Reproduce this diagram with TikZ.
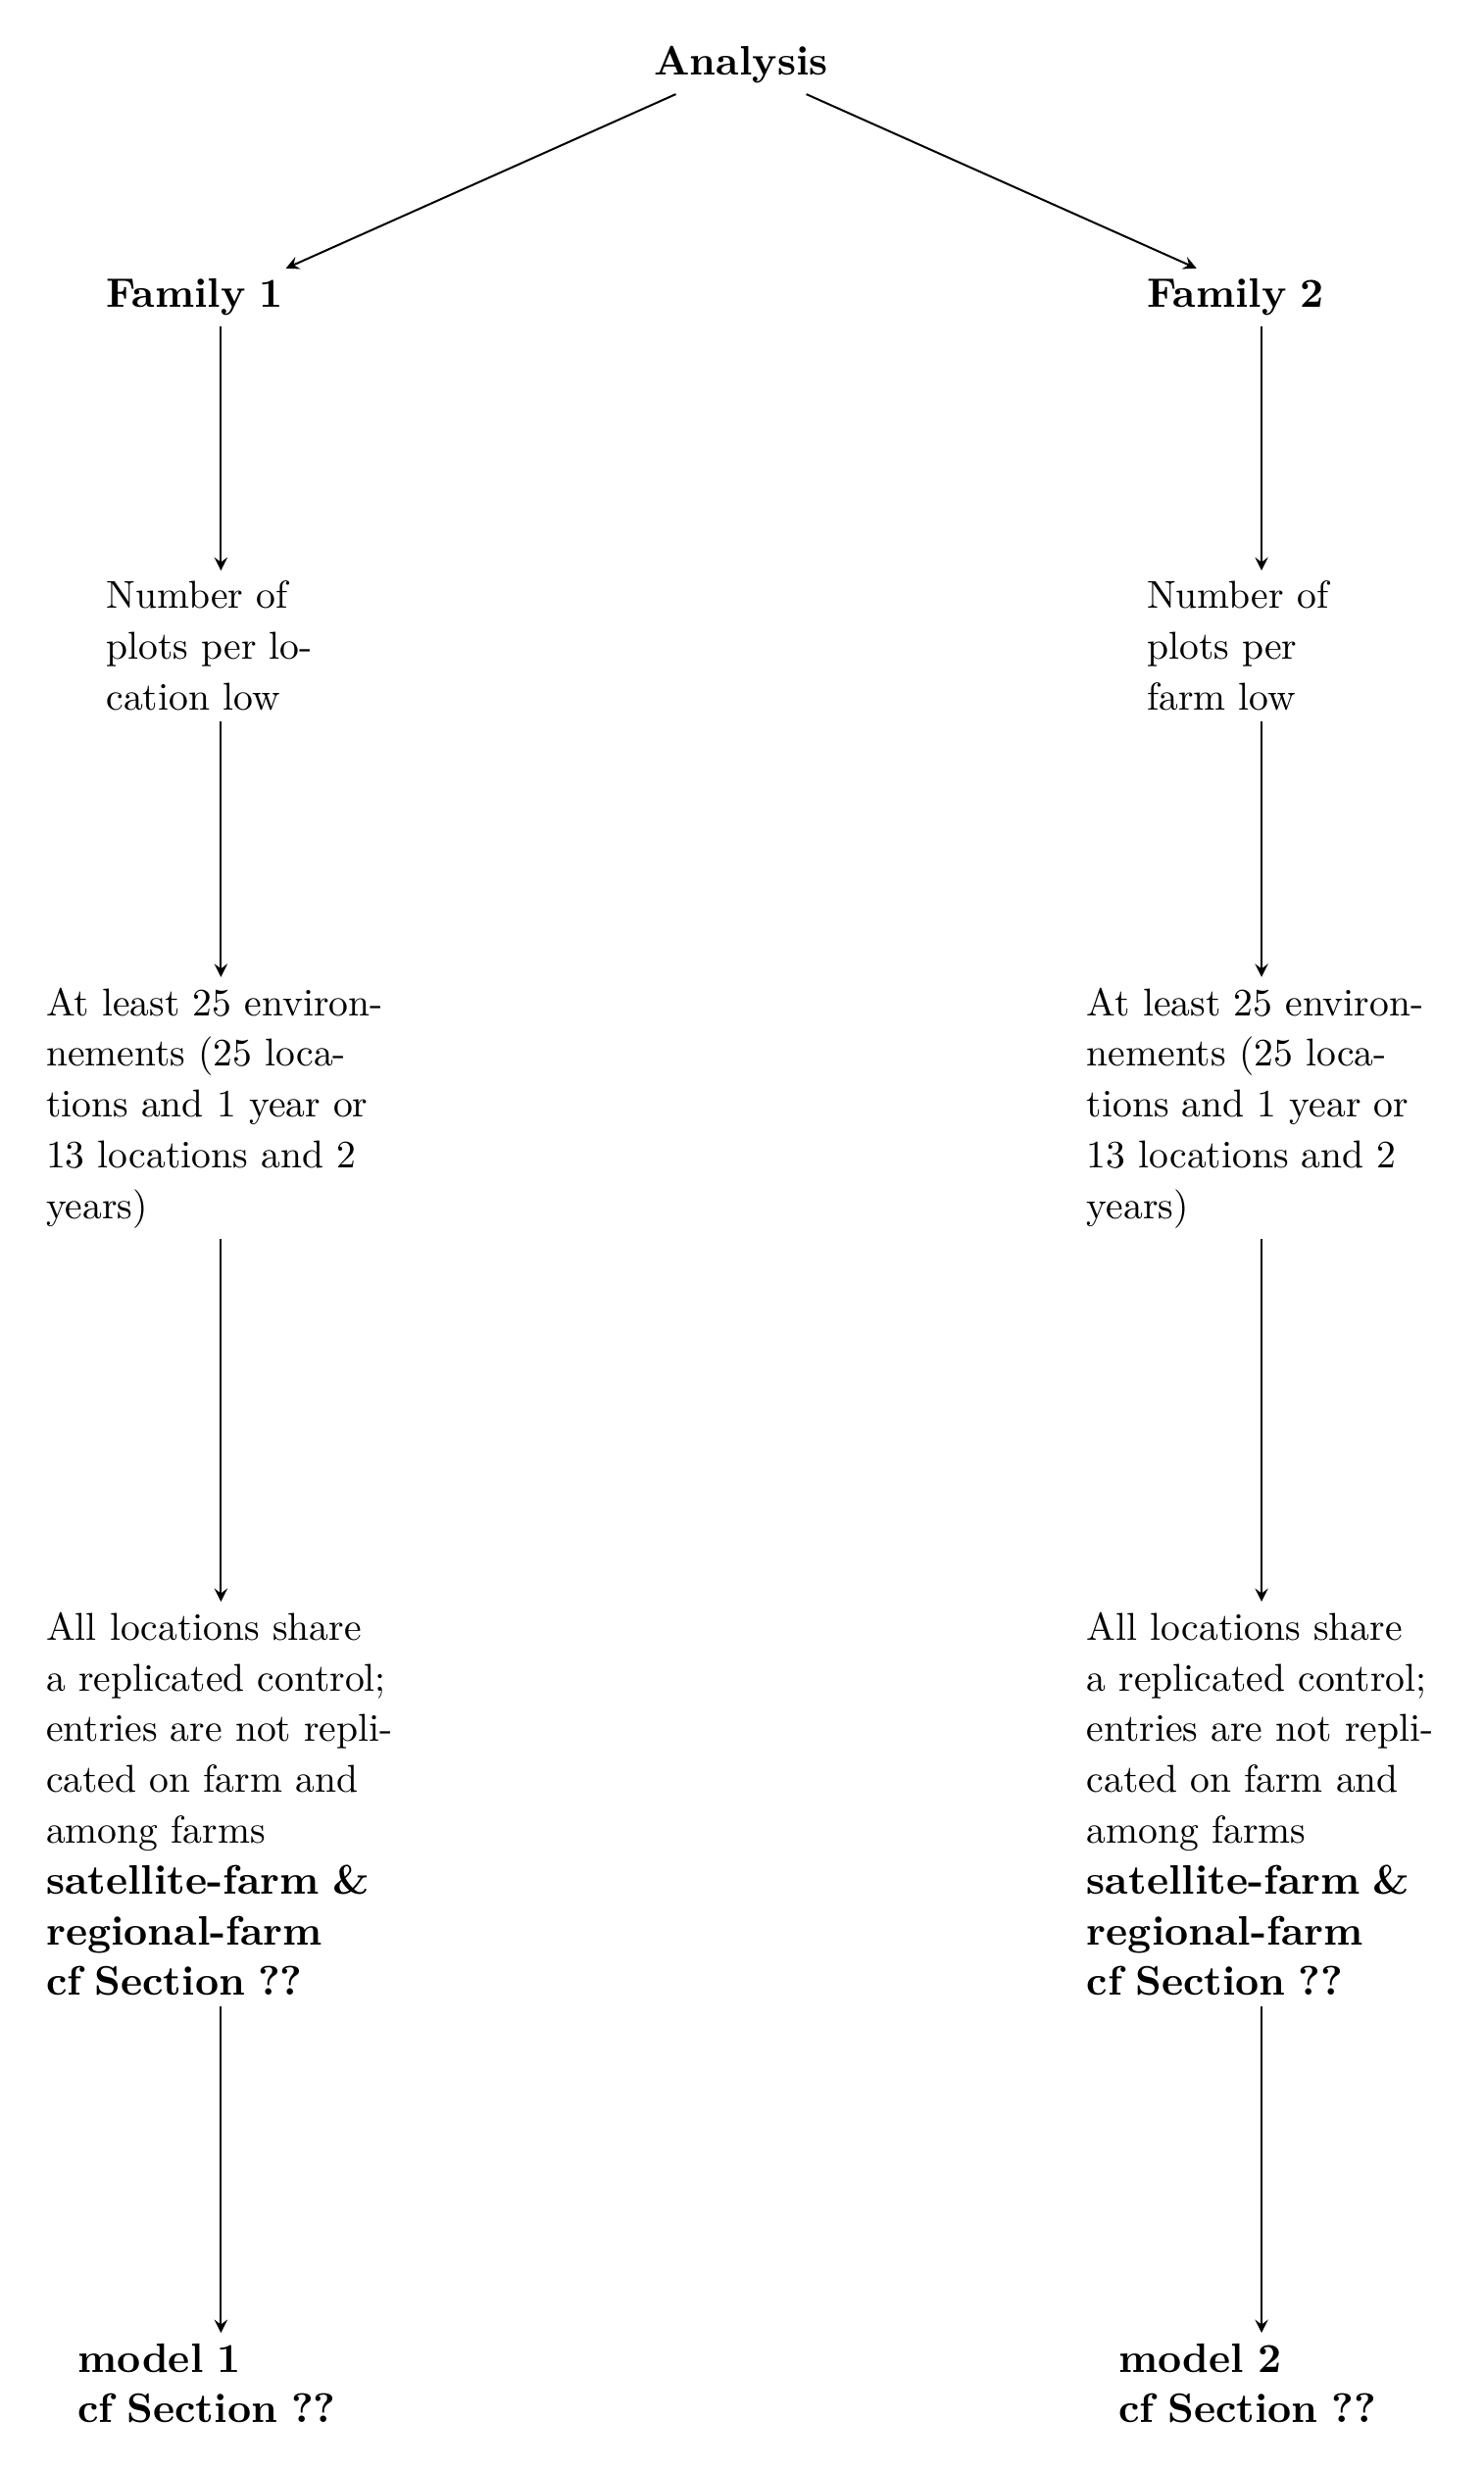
\documentclass[tikz,border=0pt]{standalone}
\usepackage{tikz}
\usetikzlibrary{arrows.meta,calc,positioning}
\linespread{1.09}

\begin{document}
\begin{tikzpicture}[>=stealth,line width=0.5pt,
    every node/.style={align=left,inner ysep=2.5pt},
    boldtxt/.style={font=\fontsize{10.6}{12}\selectfont\bfseries},
    narrow/.style={text width=59pt,anchor=north},
    wide/.style={text width=90pt,anchor=north},
    midw/.style={text width=73.7pt,anchor=north,boldtxt}]
    \useasboundingbox (0,0) rectangle (13.437,-22.357);
    \node[anchor=south,boldtxt] (ana) at (6.71,-0.853) {Analysis};
    % left branch
    \node[narrow,boldtxt] (fam1) at (2,-2.43) {Family 1};
    \node[narrow] (plots1) at (2,-5.166) {Number of plots per location low};
    \node[wide] (env1) at (2,-8.847) {At least 25 environnements (25 locations and 1 year or 13 locations and 2 years)};
    \node[wide] (ctrl1) at (2,-14.503) {All locations share a replicated control; entries are not replicated on farm and among farms\\
      {\fontsize{10.6}{12}\selectfont\bfseries satellite-farm \& regional-farm}\\ {\fontsize{10.6}{12}\selectfont\bfseries cf Section ??}};
    \node[midw] (mod1) at (2,-21.124) {model 1\\ cf Section ??};
    % right branch
    \node[narrow,boldtxt] (fam2) at ($(fam1.north)+(9.423,0)$) {Family 2};
    \node[narrow] (plots2) at ($(plots1.north)+(9.423,0)$) {Number of plots per farm low};
    \node[wide] (env2) at ($(env1.north)+(9.423,0)$) {At least 25 environnements (25 locations and 1 year or 13 locations and 2 years)};
    \node[wide] (ctrl2) at ($(ctrl1.north)+(9.423,0)$) {All locations share a replicated control; entries are not replicated on farm and among farms\\
      {\fontsize{10.6}{12}\selectfont\bfseries satellite-farm \& regional-farm}\\ {\fontsize{10.6}{12}\selectfont\bfseries cf Section ??}};
    \node[midw] (mod2) at ($(mod1.north)+(9.423,0)$) {model 2\\ cf Section ??};
    \draw[->] (ana) -- (fam1);
    \draw[->] (ana) -- (fam2);
    \draw[->] (fam1) -- (plots1);
    \draw[->] (plots1) -- (env1);
    \draw[->] (env1) -- (ctrl1);
    \draw[->] (ctrl1) -- (mod1);
    \draw[->] (fam2) -- (plots2);
    \draw[->] (plots2) -- (env2);
    \draw[->] (env2) -- (ctrl2);
    \draw[->] (ctrl2) -- (mod2);
\end{tikzpicture}
\end{document}
